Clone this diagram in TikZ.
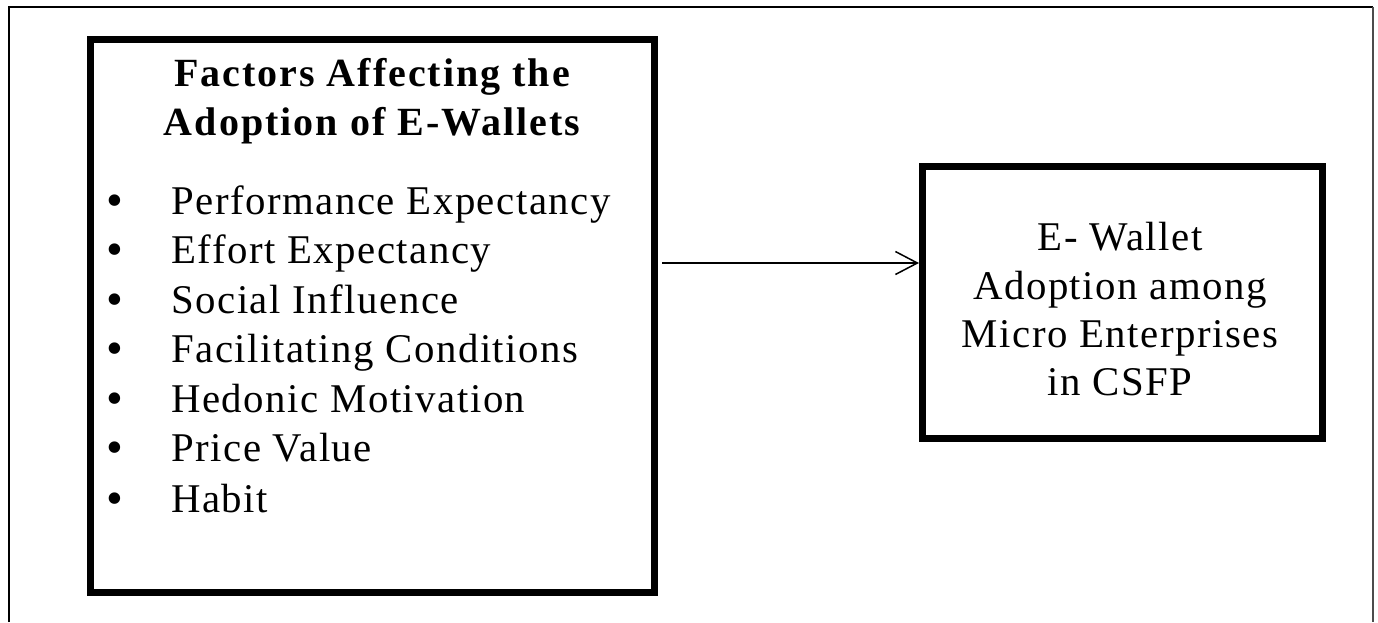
\documentclass[tikz,border=0pt]{standalone}
\usepackage{fontspec}
\setmainfont{Liberation Serif}[LetterSpace=3.7]
\newfontfamily\headfont{Liberation Serif}[LetterSpace=5]
\usetikzlibrary{arrows.meta}

\tikzset{
  thickbox/.style={draw, line width=3.5pt, inner sep=0pt},
  txt/.style={inner sep=0pt, anchor=base, font=\fontsize{20.4}{24}\selectfont},
  head/.style={txt, font=\headfont\fontsize{20}{24}\selectfont\bfseries},
  item/.style={txt, anchor=base west},
  dot/.style={txt, font=\fontsize{24}{26}\selectfont, yshift=-1.2pt}
}

\begin{document}
\begin{tikzpicture}[x=0.5pt,y=-0.5pt,>={Straight Barb[length=11pt,width=11.5pt]}]
\useasboundingbox (0,0) rectangle (1378,622);
% outer frame, open at the bottom
\draw[line width=1pt] (9,622) -- (9,7) -- (1373,7);
\draw[line width=1pt, black!70] (1373,7) -- (1373,622);

\node[thickbox, minimum width=282pt, minimum height=276.5pt] (factors) at (372.5,316) {};
\node[thickbox, minimum width=200pt, minimum height=136pt] (adopt) at (1122.5,302.5) {};

\node[head] (t1) at (372,86) {Factors Affecting the};
\node[head] (t2) at (372,135) {Adoption of E-Wallets};

\node[dot] (b1) at (115,214) {\textbullet};
\node[item] (f1) at (171,214) {Performance Expectancy};
\node[dot] (b2) at (115,263.5) {\textbullet};
\node[item] (f2) at (171,263.5) {Effort Expectancy};
\node[dot] (b3) at (115,313) {\textbullet};
\node[item] (f3) at (171,313) {Social Influence};
\node[dot] (b4) at (115,362.5) {\textbullet};
\node[item] (f4) at (171,362.5) {Facilitating Conditions};
\node[dot] (b5) at (115,412) {\textbullet};
\node[item] (f5) at (171,412) {Hedonic Motivation};
\node[dot] (b6) at (115,461.5) {\textbullet};
\node[item] (f6) at (171,461.5) {Price Value};
\node[dot] (b7) at (115,512) {\textbullet};
\node[item] (f7) at (171,512) {Habit};

\node[txt] (e1) at (1120,250) {E- Wallet};
\node[txt] (e2) at (1120,299) {Adoption among};
\node[txt] (e3) at (1120,347) {Micro Enterprises};
\node[txt] (e4) at (1120,395) {in CSFP};

\coordinate (arrowrow) at (0,263);
\draw[->, line width=0.75pt, shorten <=2pt] (factors.east |- arrowrow) -- (adopt.west |- arrowrow);
\end{tikzpicture}
\end{document}
